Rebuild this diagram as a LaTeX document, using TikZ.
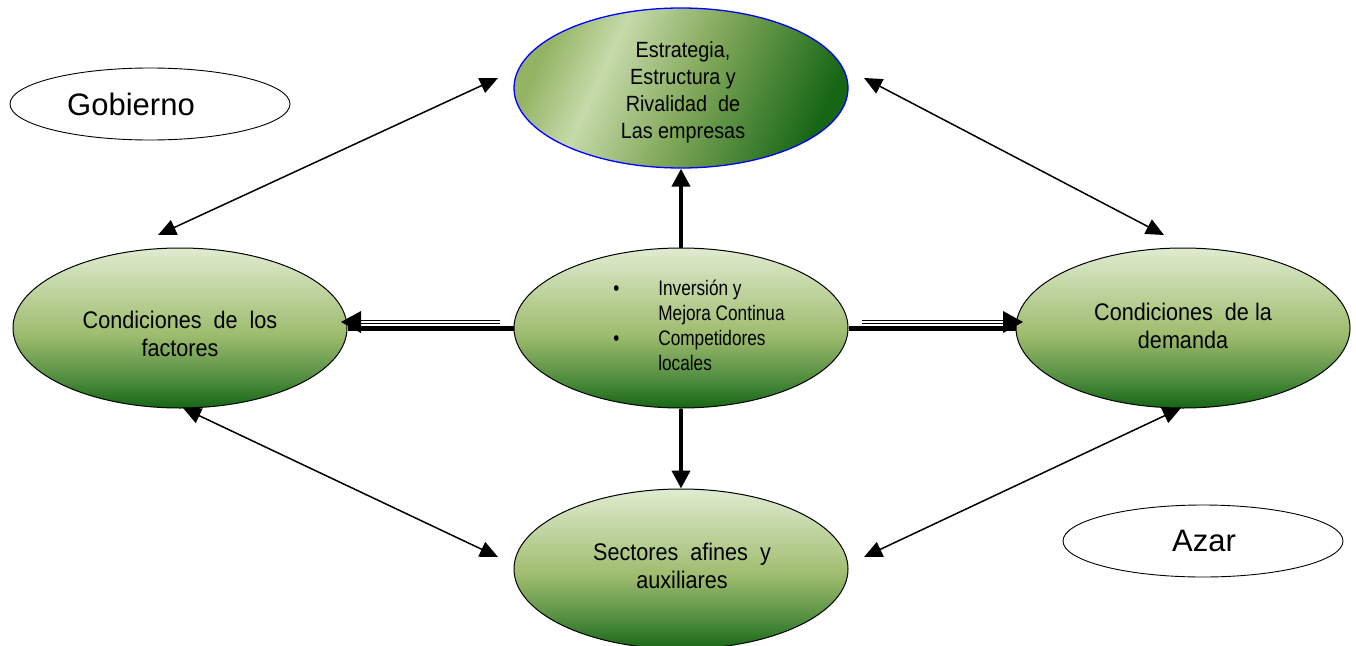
\documentclass[tikz,border=0pt]{standalone}
\usepackage{fontspec}
\setmainfont{Liberation Sans}
\newfontfamily\narrowA[FakeStretch=0.82]{Liberation Sans}
\newfontfamily\narrowB[FakeStretch=0.9]{Liberation Sans}
\usetikzlibrary{shapes.geometric,arrows.meta}
\definecolor{gdark}{RGB}{22,102,22}
\definecolor{gmidA}{RGB}{80,140,62}
\definecolor{gmid}{RGB}{158,188,110}
\definecolor{gtop}{RGB}{224,235,208}
\definecolor{hlight}{RGB}{198,218,170}
\definecolor{hleft}{RGB}{148,180,100}
\definecolor{hmid}{RGB}{130,168,90}
\pgfdeclareverticalshading{greenv}{100bp}{color(0bp)=(gdark); color(25bp)=(gdark); color(34bp)=(gmidA); color(48bp)=(gmid); color(75bp)=(gtop); color(100bp)=(gtop)}
\pgfdeclarehorizontalshading{greenh}{100bp}{color(0bp)=(hleft); color(25bp)=(hleft); color(36bp)=(hlight); color(52bp)=(hmid); color(75bp)=(gdark); color(100bp)=(gdark)}
\tikzset{
  gell/.style={ellipse, draw=black, line width=1pt, minimum width=334pt, minimum height=160pt, inner sep=0pt, shading=greenv},
  topell/.style={ellipse, draw=blue, line width=1.3pt, minimum width=334pt, minimum height=160pt, inner sep=0pt, shading=greenh, shading angle=-25},
  well/.style={ellipse, draw=black, line width=0.9pt, minimum width=280pt, minimum height=72pt, inner sep=0pt, fill=white},
  gtxt/.style={align=center, font=\narrowB\fontsize{24}{28}\selectfont, inner sep=0pt},
  diag/.style={line width=1.5pt, {Triangle[length=18pt,width=16pt]}-{Triangle[length=18pt,width=16pt]}},
  vthick/.style={line width=4pt, -{Triangle[length=18pt,width=18pt]}},
  hthick/.style={line width=5pt},
  hthin/.style={line width=0.7pt},
  tipfill/.style={fill=black},
}
\begin{document}
\begin{tikzpicture}[x=1pt,y=-1pt]
\useasboundingbox (0,0) rectangle (1356,645);
\clip (0,0) rectangle (1356,645);
% ellipses
\node[topell] (t) at (681,88) {};
\node[gell] (c) at (681,328) {};
\node[gell] (l) at (180,328) {};
\node[gell] (r) at (1183,328) {};
\node[gell] (b) at (681,569) {};
\node[well] (g) at (150,104) {};
\node[well] (z) at (1203,541) {};
% texts
\node[align=center, inner sep=0pt, font=\narrowB\fontsize{22}{27}\selectfont] (tt) at (683,92) {Estrategia,\\Estructura y\\Rivalidad\ \ de\\Las empresas};
\node[align=left, inner sep=0pt, font=\narrowA\fontsize{21}{25}\selectfont] (ct) at (700,325) {\makebox[43pt][l]{\hspace{-2pt}\textbullet}Inversión y\\\hspace*{43pt}Mejora Continua\\\makebox[43pt][l]{\hspace{-2pt}\textbullet}Competidores\\\hspace*{43pt}locales};
\node[gtxt] (lt) at (180,334) {Condiciones\ \ de\ \ los\\factores};
\node[gtxt] (rt) at (1183,326) {Condiciones\ \ de la\\demanda};
\node[gtxt] (bt) at (682,566) {Sectores\ \ afines\ \ y\\auxiliares};
\node[inner sep=0pt, font=\fontsize{31}{36}\selectfont] (gt) at (131,104) {Gobierno};
\node[inner sep=0pt, font=\fontsize{31}{36}\selectfont] (zt) at (1204,541) {Azar};
% diagonal connectors
\coordinate (d1a) at (158,235); \coordinate (d1b) at (498,78);
\coordinate (d2a) at (864,78); \coordinate (d2b) at (1164,235);
\coordinate (d3a) at (183,408); \coordinate (d3b) at (498,557);
\coordinate (d4a) at (1181,408); \coordinate (d4b) at (864,557);
\draw[diag] (d1a) -- (d1b);
\draw[diag] (d2a) -- (d2b);
\draw[diag] (d3a) -- (d3b);
\draw[diag] (d4a) -- (d4b);
% vertical thick
\draw[vthick] (c.north) -- (t.south);
\draw[vthick] (c.south) -- (b.north);
% horizontal
\draw[hthick] (c.west) -- (l.east);
\draw[hthick] (c.east) -- (r.west);
\coordinate (la1) at (500,320.5); \coordinate (lb1) at (358,320.5);
\coordinate (la2) at (500,323.5); \coordinate (lb2) at (358,323.5);
\coordinate (ltip) at (341,322);
\draw[hthin] (la1) -- (lb1);
\draw[hthin] (la2) -- (lb2);
\fill[tipfill] (ltip) -- ++(20,-11) -- ++(0,22) -- cycle;
\coordinate (ra1) at (862,320.5); \coordinate (rb1) at (1005,320.5);
\coordinate (ra2) at (862,323.5); \coordinate (rb2) at (1005,323.5);
\coordinate (rtip) at (1023,322);
\draw[hthin] (ra1) -- (rb1);
\draw[hthin] (ra2) -- (rb2);
\fill[tipfill] (rtip) -- ++(-20,-11) -- ++(0,22) -- cycle;
\end{tikzpicture}
\end{document}
